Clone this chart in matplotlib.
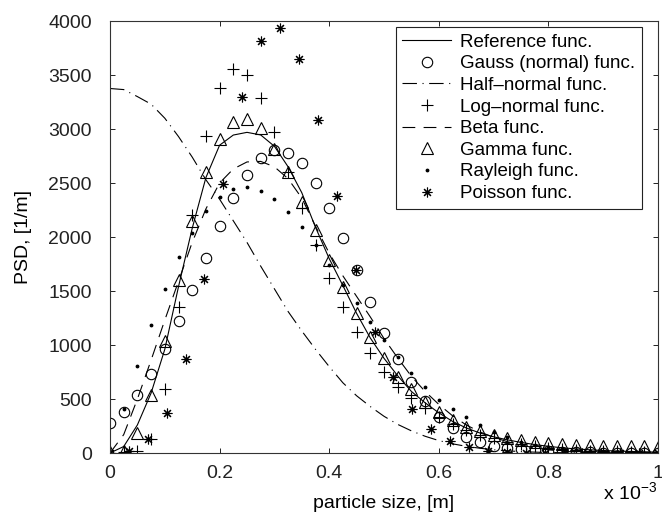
import numpy as np
import matplotlib
matplotlib.use('Agg')
import matplotlib.pyplot as plt
from matplotlib.ticker import FuncFormatter

plt.rcParams['font.family'] = ['Liberation Sans', 'DejaVu Sans']
plt.rcParams['mathtext.fontset'] = 'custom'
plt.rcParams['mathtext.rm'] = 'Liberation Sans'

# particle size grid [m], 0 .. 1e-3 in steps of 0.025e-3
x = np.arange(41) * 0.025e-3
# poisson is evaluated on its own grid (30 points)
x_pois = np.arange(30) / 29 * 1e-3

ref = [0, 60, 260, 555, 960, 1540, 2080, 2550, 2850, 2944, 2969, 2945, 2840, 2650, 2410,
       2090, 1800, 1550, 1293, 1065, 877, 715, 570, 465, 372, 293, 232, 185, 150, 122,
       98, 78, 62, 48, 38, 30, 23, 18, 14, 11, 8]
gauss = [275, 383, 537, 731, 960, 1225, 1509, 1809, 2102, 2364, 2574, 2728, 2806, 2781, 2682,
         2503, 2265, 1988, 1694, 1401, 1114, 867, 660, 485, 336, 228, 151, 98, 68, 46,
         33, 24, 16, 11, 8, 5, 4, 3, 2, 1, 1]
half_normal = [3375, 3365, 3300, 3230, 3100, 2930, 2740, 2530, 2350, 2150, 1950, 1730, 1520, 1310, 1130,
               960, 800, 650, 530, 430, 340, 265, 205, 155, 115, 85, 62, 44, 30, 20,
               13, 8, 5, 3, 2, 1, 0, 0, 0, 0, 0]
log_normal = [0, 12, 20, 130, 590, 1349, 2204, 2935, 3380, 3556, 3500, 3287, 2972, 2600, 2265,
              1926, 1623, 1355, 1123, 925, 752, 612, 512, 418, 335, 270, 215, 170, 135, 105,
              82, 64, 50, 39, 30, 23, 18, 14, 11, 8, 6]
beta = [0, 170, 500, 860, 1231, 1590, 1950, 2260, 2500, 2630, 2695, 2700, 2650, 2540, 2360,
        2100, 1850, 1640, 1450, 1260, 1060, 880, 710, 570, 450, 345, 260, 195, 145, 105,
        72, 48, 30, 17, 9, 4, 1, 0, 0, 0, 0]
gamma = [5, 20, 185, 537, 1035, 1605, 2151, 2600, 2905, 3066, 3093, 3005, 2812, 2605, 2320,
         2065, 1787, 1540, 1293, 1071, 877, 707, 593, 475, 383, 305, 245, 200, 165, 140,
         118, 100, 90, 80, 74, 70, 68, 66, 64, 62, 60]
rayleigh = [0, 404, 809, 1182, 1519, 1815, 2040, 2240, 2370, 2444, 2463, 2429, 2350, 2235, 2095,
            1925, 1745, 1560, 1389, 1213, 1045, 885, 744, 611, 495, 405, 330, 258, 194, 148,
            104, 75, 54, 38, 26, 18, 12, 8, 5, 3, 2]
poisson = [0, 20, 130, 370, 870, 1610, 2490, 3296, 3815, 3935, 3648, 3083, 2380, 1690, 1120,
           700, 410, 220, 115, 56, 18, 5, 2, 0, 0, 0, 0, 0, 0, 0]

fig = plt.figure(figsize=(6.62, 5.19), dpi=100)
ax = fig.add_axes([110/662, 1-453/519, 548/662, 432/519])

c = 'k'
lw = 0.8
ax.plot(x, ref, '-', color=c, lw=lw, label='Reference func.')
ax.plot(x, gauss, 'o', mfc='none', mec=c, ms=7.5, mew=0.8, label='Gauss (normal) func.')
ax.plot(x, half_normal, '-.', color=c, lw=lw, dashes=(13, 5, 1, 5), label='Half\u2013normal func.')
ax.plot(x, log_normal, '+', color=c, ms=8, mew=0.8, label='Log\u2013normal func.')
ax.plot(x, beta, '--', color=c, lw=lw, dashes=(11.5, 7.5), label='Beta func.')
ax.plot(x, gamma, '^', mfc='none', mec=c, ms=8, mew=0.8, label='Gamma func.')
ax.plot(x, rayleigh, '.', color=c, ms=3.5, label='Rayleigh func.')
ax.plot(x_pois, poisson, ls='none', marker=(8, 2, 0), color=c, ms=7, mew=0.8, label='Poisson func.')

ax.set_xlim(0, 1e-3)
ax.set_ylim(0, 4000)
ax.set_xticks(np.arange(0, 1.01, 0.2) * 1e-3)
ax.set_yticks(np.arange(0, 4001, 500))
ax.xaxis.set_major_formatter(FuncFormatter(lambda v, p: f'{v*1e3:g}'))
ax.tick_params(direction='in', length=3.5, width=0.7, labelsize=14, colors='#222222',
               top=True, right=True)
ax.tick_params(axis='y', pad=13)
ax.tick_params(axis='x', pad=9)
for s in ax.spines.values():
    s.set_linewidth(0.8)
    s.set_color('#333333')

ax.set_xlabel('particle size, [m]', fontsize=14, labelpad=9)
ax.set_ylabel('PSD, [1/m]', fontsize=14, labelpad=12)
fig.text(603/662, 1-500/519, 'x 10$^{\\mathregular{\u22123}}$', fontsize=14, ha='left', va='baseline')

leg = ax.legend(loc='upper right', bbox_to_anchor=((642-110)/548, (453-27)/432),
                borderaxespad=0, fontsize=13.5, numpoints=1, handlelength=2.6,
                handletextpad=0.5, labelspacing=0.24, borderpad=0.35, fancybox=False,
                framealpha=1, edgecolor='#222222')
leg.get_frame().set_linewidth(0.8)

fig.savefig('out.png', dpi=100)
